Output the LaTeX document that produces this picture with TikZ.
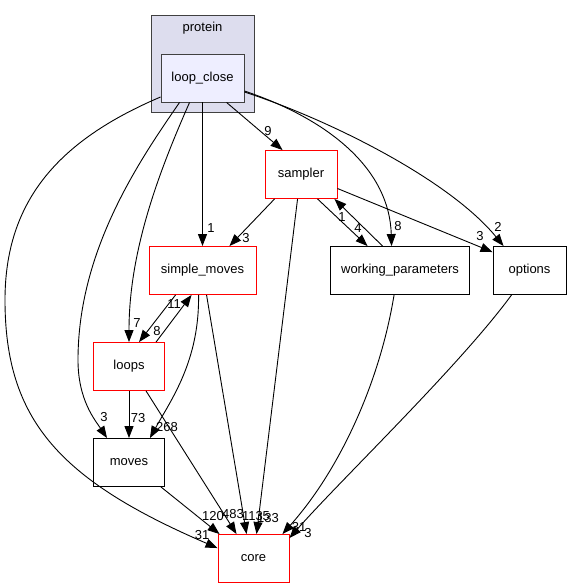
\documentclass[tikz,border=0pt]{standalone}
\usepackage{fontspec}
\setmainfont{Liberation Sans}
\usepackage{tikz}
\usetikzlibrary{arrows.meta,calc,backgrounds}
\definecolor{clusterfill}{HTML}{DDDDEE}
\definecolor{innerfill}{HTML}{EEEEFF}
\definecolor{darkline}{HTML}{404040}
\definecolor{redline}{HTML}{FF0000}
\tikzset{
  folder/.style={draw=black, line width=0.9pt, fill=white, minimum width=#1,
    minimum height=48pt, inner sep=0pt, font=\fontsize{13}{15}\selectfont},
  folder/.default=71pt,
  redfolder/.style={folder=#1, draw=redline},
  redfolder/.default=71pt,
  cluster/.style={draw=darkline, line width=1pt, fill=clusterfill, minimum width=103pt,
    minimum height=97pt, inner sep=0pt},
  dep/.style={line width=0.9pt, -{Triangle[length=12pt,width=9pt]}},
  lbl/.style={inner sep=0pt, font=\fontsize{13}{15}\selectfont},
}

\begin{document}
\begin{tikzpicture}[x=1pt,y=-1pt]
\useasboundingbox (0,0) rectangle (571,588);
\node[cluster] (protein) at (202.5,64.5) {};
\node[lbl] (proteintext) at (202.5,28) {protein};
\node[folder=83pt, fill=innerfill, draw=darkline] (loopclose) at (202.5,78) {loop\_close};
\node[redfolder=72pt] (sampler) at (301,174.5) {sampler};
\node[redfolder=107pt] (simplemoves) at (202.5,270.5) {simple\_moves};
\node[folder=139pt] (wp) at (400,270.5) {working\_parameters};
\node[folder=73pt] (options) at (529.5,270.5) {options};
\node[redfolder] (loops) at (129,366.5) {loops};
\node[folder] (moves) at (129,462.5) {moves};
\node[redfolder] (core) at (253.5,558.5) {core};

\draw[dep] ($(loopclose.south west)+(66,0)$) -- ($(sampler.north west)+(18,0)$)
  node[lbl] (l9) at (268,131) {9};
\draw[dep] (loopclose.south) -- (simplemoves.north)
  node[lbl] (l1a) at (211,228) {1};
\draw[dep] ($(loopclose.south west)+(29,0)$) .. controls +(-30,68) and +(0,-92) .. (loops.north)
  node[lbl] (l7) at (137,323) {7};
\draw[dep] ($(loopclose.south west)+(19,0)$) .. controls +(-40,58) and +(0,-110) .. (78,360)
  .. controls +(0,40) and +(-12,-18) .. ($(moves.north west)+(14,0)$)
  node[lbl] (l3a) at (104,417) {3};
\draw[dep] ($(loopclose.west)+(0,19)$) .. controls +(-101,43) and +(0,-100) .. (5,300)
  .. controls +(0,120) and +(-158,-68) .. ($(core.north west)+(0,14)$)
  node[lbl] (l31a) at (202,535) {31};
\draw[dep] ($(loopclose.east)+(0,13)$) .. controls +(86,29) and +(-2,-76) .. ($(wp.north west)+(61.5,0)$)
  node[lbl] (l8a) at (398,226) {8};
\draw[dep] ($(loopclose.east)+(0,14)$) .. controls +(86,28) and +(-54,-66) .. ($(options.north west)+(11,0)$)
  node[lbl] (l2) at (498,227) {2};
\draw[dep] ($(sampler.south west)+(10,0)$) -- ($(simplemoves.north east)+(-27,0)$)
  node[lbl] (l3b) at (246,238) {3};
\draw[dep] ($(sampler.south west)+(33,0)$) -- ($(core.north west)+(39,0)$)
  node[lbl] (l133) at (268,518) {133};
\draw[dep] ($(sampler.south west)+(53,0)$) -- ($(wp.north west)+(37.5,0)$)
  node[lbl] (l4) at (358,228) {4};
\draw[dep] ($(wp.north west)+(52.5,0)$) -- ($(sampler.south east)+(-3,0)$)
  node[lbl] (l1b) at (342,217) {1};
\draw[dep] ($(sampler.east)+(0,14)$) -- ($(options.north west)+(0,6)$)
  node[lbl] (l3c) at (480,236) {3};
\draw[dep] ($(simplemoves.south west)+(27,0)$) -- ($(loops.north west)+(46,0)$)
  node[lbl] (l8b) at (157,331) {8};
\draw[dep] ($(loops.north west)+(63,0)$) -- ($(simplemoves.south west)+(43,0)$)
  node[lbl] (l11) at (174,304) {11};
\draw[dep] ($(simplemoves.south west)+(50,0)$) .. controls +(1,66) and +(21,-38) .. ($(moves.north east)+(-15,0)$)
  node[lbl] (l268) at (167,427) {268};
\draw[dep] ($(simplemoves.south west)+(58,0)$) -- ($(core.north west)+(29,0)$)
  node[lbl] (l1135) at (256,516) {1135};
\draw[dep] (loops.south) -- (moves.north)
  node[lbl] (l73) at (138,418) {73};
\draw[dep] ($(loops.south west)+(53,0)$) -- ($(core.north west)+(19,0)$)
  node[lbl] (l483) at (233,514) {483};
\draw[dep] ($(moves.south east)+(-4,0)$) -- ($(core.north west)+(2,0)$)
  node[lbl] (l120) at (213,516) {120};
\draw[dep] ($(wp.south west)+(64,0)$) .. controls +(-14,86) and +(58,-65) .. ($(core.north east)+(-7,0)$)
  node[lbl] (l31b) at (299,527) {31};
\draw[dep] ($(options.south west)+(19,0)$) .. controls +(-52,71) and +(51,-58) .. ($(core.north east)+(0,4)$)
  node[lbl] (l3d) at (308,533) {3};
\end{tikzpicture}
\end{document}
